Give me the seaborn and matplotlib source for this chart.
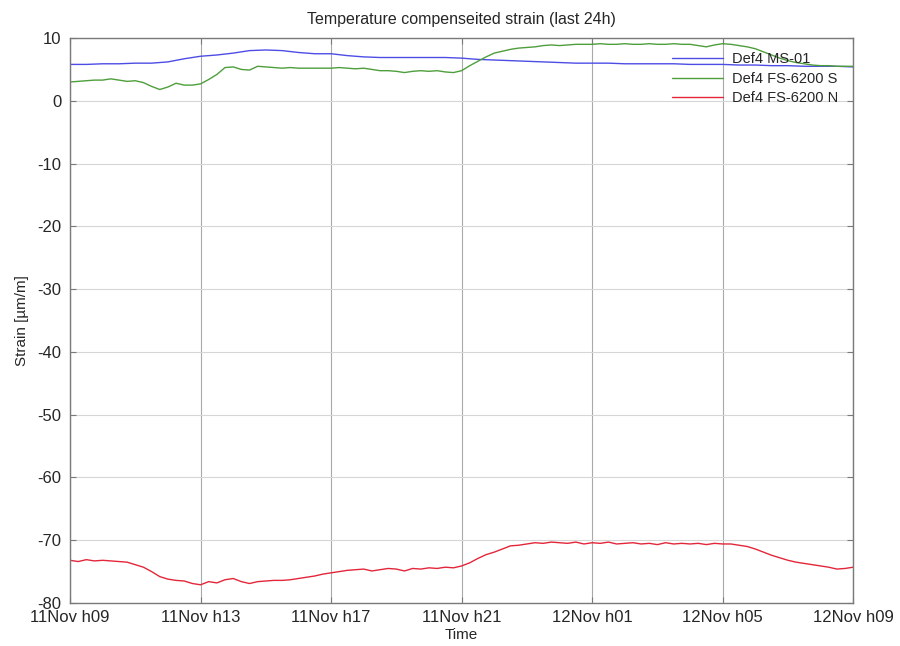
import numpy as np
import pandas as pd
import matplotlib
matplotlib.use("Agg")
import matplotlib.pyplot as plt
import matplotlib.dates as mdates
import seaborn as sns

# Strain readings over the last 24 h (µm/m)
# MS-01 logged every 30 min, FS-6200 S/N every 15 min, starting 11 Nov 09:00
ms01 = [5.8, 5.8, 5.9, 5.9, 6.0, 6.0, 6.2, 6.7, 7.1, 7.3, 7.6, 8.0, 8.1, 8.0, 7.7, 7.5,
        7.5, 7.2, 7.0, 6.9, 6.9, 6.9, 6.9, 6.9, 6.8, 6.6, 6.5, 6.4, 6.3, 6.2, 6.1, 6.0,
        6.0, 6.0, 5.9, 5.9, 5.9, 5.9, 5.8, 5.8, 5.8, 5.7, 5.7, 5.6, 5.6, 5.5, 5.5, 5.5, 5.4]

fs6200_s = [3.0, 3.1, 3.2, 3.3, 3.3, 3.5, 3.3, 3.1, 3.2, 2.9, 2.3, 1.8, 2.2, 2.8, 2.5, 2.5,
            2.7, 3.4, 4.2, 5.3, 5.4, 5.0, 4.9, 5.5, 5.4, 5.3, 5.2, 5.3, 5.2, 5.2, 5.2, 5.2,
            5.2, 5.3, 5.2, 5.1, 5.2, 5.0, 4.8, 4.8, 4.7, 4.5, 4.7, 4.8, 4.7, 4.8, 4.6, 4.5,
            4.8, 5.6, 6.3, 7.0, 7.6, 7.9, 8.2, 8.4, 8.5, 8.6, 8.8, 8.9, 8.8, 8.9, 9.0, 9.0,
            9.0, 9.1, 9.0, 9.0, 9.1, 9.0, 9.0, 9.1, 9.0, 9.0, 9.1, 9.0, 9.0, 8.8, 8.6, 8.9,
            9.1, 9.0, 8.8, 8.6, 8.3, 7.8, 7.3, 6.8, 6.4, 6.1, 5.9, 5.7, 5.6, 5.6, 5.5, 5.5, 5.5]

fs6200_n = [-73.2, -73.4, -73.1, -73.3, -73.2, -73.3, -73.4, -73.5, -73.9, -74.3, -75.0, -75.8,
            -76.2, -76.4, -76.5, -76.9, -77.1, -76.6, -76.8, -76.3, -76.1, -76.6, -76.9, -76.6,
            -76.5, -76.4, -76.4, -76.3, -76.1, -75.9, -75.7, -75.4, -75.2, -75.0, -74.8, -74.7,
            -74.6, -74.9, -74.7, -74.5, -74.6, -74.9, -74.5, -74.6, -74.4, -74.5, -74.3, -74.4,
            -74.1, -73.6, -72.9, -72.3, -71.9, -71.4, -70.9, -70.8, -70.6, -70.4, -70.5, -70.3,
            -70.4, -70.5, -70.3, -70.6, -70.4, -70.5, -70.3, -70.6, -70.5, -70.4, -70.6, -70.5,
            -70.7, -70.4, -70.6, -70.5, -70.6, -70.5, -70.7, -70.5, -70.6, -70.6, -70.8, -71.0,
            -71.4, -71.9, -72.4, -72.8, -73.2, -73.5, -73.7, -73.9, -74.1, -74.3, -74.6, -74.5,
            -74.3]

labels = ["Def4 MS-01", "Def4 FS-6200 S", "Def4 FS-6200 N"]
colors = ["#4d4de6", "#4e9e3c", "#e3263a"]
y_ticks = [-80, -70, -60, -50, -40, -30, -20, -10, 0, 10]

start = pd.Timestamp("2012-11-11 09:00")
t30 = pd.date_range(start, periods=len(ms01), freq="30min")
t15 = pd.date_range(start, periods=len(fs6200_s), freq="15min")

df = pd.concat([
    pd.DataFrame({"Time": t30, "Strain": ms01, "Sensor": labels[0]}),
    pd.DataFrame({"Time": t15, "Strain": fs6200_s, "Sensor": labels[1]}),
    pd.DataFrame({"Time": t15, "Strain": fs6200_n, "Sensor": labels[2]}),
], ignore_index=True)

sns.set_style("white")
plt.rcParams["font.family"] = ["Liberation Sans", "DejaVu Sans"]
plt.rcParams["axes.unicode_minus"] = False

fig = plt.figure(figsize=(9.0, 6.46), dpi=100)
ax = fig.add_axes([0.0778, 0.0666, 0.8702, 0.8745])

sns.lineplot(data=df, x="Time", y="Strain", hue="Sensor", hue_order=labels,
             palette=colors, linewidth=1.0, ax=ax, legend=True)

ax.set_xlim(start, start + pd.Timedelta(hours=24))
ax.set_ylim(-80, 10)
ax.set_yticks(y_ticks)
ax.xaxis.set_major_locator(mdates.HourLocator(byhour=[1, 5, 9, 13, 17, 21]))
ax.xaxis.set_major_formatter(mdates.DateFormatter("%d%b h%H"))

ax.xaxis.grid(True, color="#a9a9a9", linewidth=0.8)
ax.yaxis.grid(True, color="#d6d6d6", linewidth=0.8)
ax.set_axisbelow(True)

for s in ax.spines.values():
    s.set_visible(True)
    s.set_color("#7a7a7a")
    s.set_linewidth(1.0)

ax.tick_params(direction="in", length=4, width=0.8, color="#7a7a7a",
               labelsize=12, top=True, right=True, bottom=True, left=True)
ax.tick_params(axis="x", pad=5)
ax.tick_params(axis="y", pad=6)

ax.set_title("Temperature compenseited strain (last 24h)", fontsize=11.5, pad=10)
ax.set_xlabel("Time", fontsize=11, labelpad=2)
ax.set_ylabel("Strain [µm/m]", fontsize=11, labelpad=6)

leg = ax.legend(loc="upper left", bbox_to_anchor=(0.769, 0.975), frameon=False,
                fontsize=10.5, handlelength=3.5, handletextpad=0.6,
                borderaxespad=0, borderpad=0, labelspacing=0.38)

fig.savefig("out.png", dpi=100)
